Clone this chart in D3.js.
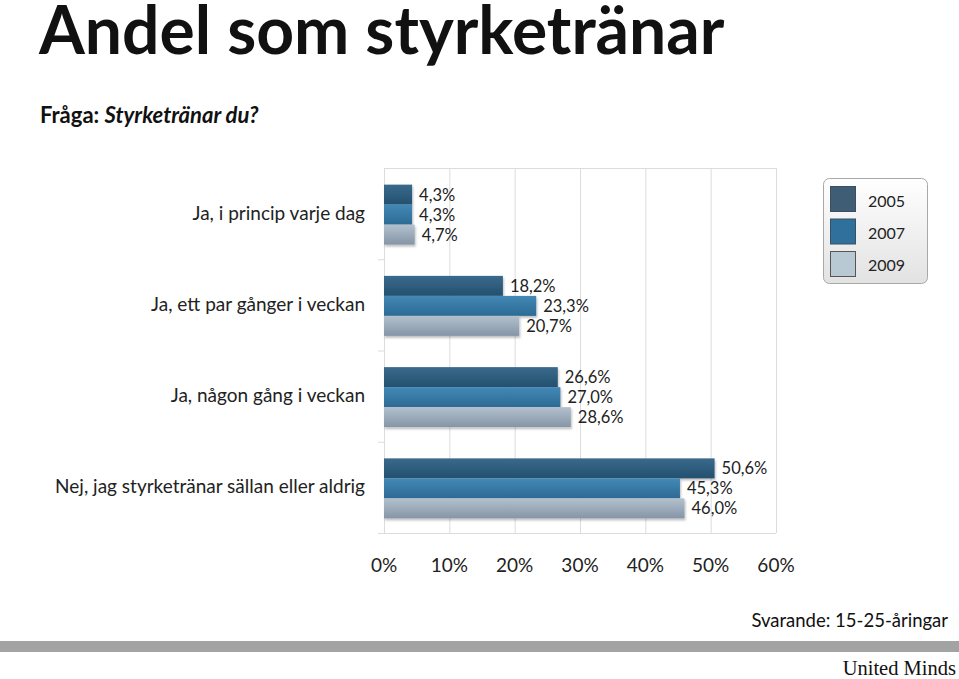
<!DOCTYPE html>
<html><head><meta charset="utf-8">
<script src="https://cdn.jsdelivr.net/npm/d3@7"></script>
<style>body{margin:0;background:#fff;} svg{display:block;}</style>
</head><body>
<svg id="c" width="959" height="679"></svg>
<script>
const categories = ["Ja, i princip varje dag","Ja, ett par gånger i veckan","Ja, någon gång i veckan","Nej, jag styrketränar sällan eller aldrig"];
const years = ["2005","2007","2009"];
const v2005 = [4.3, 18.2, 26.6, 50.6];
const v2007 = [4.3, 23.3, 27.0, 45.3];
const v2009 = [4.7, 20.7, 28.6, 46.0];
const xTicks = [0,10,20,30,40,50,60];
const title = "Andel som styrketränar";
const subtitleBold = "Fråga: ";
const subtitleItalic = "Styrketränar du?";
const footnote = "Svarande: 15-25-åringar";
const brand = "United Minds";

const series = [v2005, v2007, v2009];
const svg = d3.select("#c");
const font = "Lato, 'Open Sans', sans-serif";
const defs = svg.append("defs");
const grads = [
  ["g0", "#3a6a8c", "#24506e"],
  ["g1", "#4389b6", "#2c6a94"],
  ["g2", "#b3c1ce", "#8595a7"]
];
grads.forEach(([id,a,b])=>{
  const g = defs.append("linearGradient").attr("id",id).attr("x1",0).attr("y1",0).attr("x2",0).attr("y2",1);
  g.append("stop").attr("offset","0%").attr("stop-color",a);
  g.append("stop").attr("offset","100%").attr("stop-color",b);
});
const lg = defs.append("linearGradient").attr("id","lg").attr("x1",0).attr("y1",0).attr("x2",0).attr("y2",1);
lg.append("stop").attr("offset","0%").attr("stop-color","#ffffff");
lg.append("stop").attr("offset","100%").attr("stop-color","#e2e2e2");
const f = defs.append("filter").attr("id","sh").attr("x","-5%").attr("y","-20%").attr("width","120%").attr("height","160%");
f.append("feDropShadow").attr("dx",1).attr("dy",2).attr("stdDeviation",1.2).attr("flood-color","#000").attr("flood-opacity",0.25);

// title
svg.append("text").attr("x",39).attr("y",54).attr("font-family",font).attr("font-weight",700)
  .attr("font-size",66).attr("fill","#111").text(title);
const st = svg.append("text").attr("x",40).attr("y",123).attr("font-family",font).attr("font-weight",700)
  .attr("font-size",22).attr("fill","#111");
st.append("tspan").text(subtitleBold);
st.append("tspan").attr("font-style","italic").text(subtitleItalic);

const x = d3.scaleLinear().domain([0,60]).range([384,776]);
const y = d3.scaleBand().domain(categories).range([168,533]);
const yInner = d3.scaleBand().domain(years).range([0,60]);
const groupOff = (y.bandwidth()-60)/2 + 1;

// grid
svg.append("g").selectAll("line").data(xTicks).join("line")
  .attr("x1",d=>x(d)+0.5).attr("x2",d=>x(d)+0.5).attr("y1",168).attr("y2",533)
  .attr("stroke","#dcdcdc").attr("stroke-width",1);
svg.append("line").attr("x1",x(0)).attr("x2",x(60)).attr("y1",168.5).attr("y2",168.5).attr("stroke","#dcdcdc");
svg.append("line").attr("x1",x(0)-6).attr("x2",x(60)).attr("y1",533.5).attr("y2",533.5).attr("stroke","#dcdcdc");
// left ticks at band boundaries
svg.append("g").selectAll("line").data(categories.slice(1)).join("line")
  .attr("x1",x(0)-6).attr("x2",x(0)).attr("y1",d=>y(d)+0.5).attr("y2",d=>y(d)+0.5).attr("stroke","#dcdcdc");

// category labels
svg.append("g").selectAll("text").data(categories).join("text")
  .attr("x",365).attr("y",d=>y(d)+y.bandwidth()/2+6)
  .attr("text-anchor","end").attr("font-family",font).attr("font-size",19).attr("fill","#222").text(d=>d);

// bars
const fmt = v => d3.format(".1f")(v).replace(".",",")+"%";
series.forEach((vals,si)=>{
  const g = svg.append("g");
  g.selectAll("rect").data(categories).join("rect")
    .attr("x",x(0)).attr("y",(d)=>y(d)+groupOff+yInner(years[si]))
    .attr("width",(d,i)=>x(vals[i])-x(0)).attr("height",yInner.bandwidth())
    .attr("fill",`url(#g${si})`).attr("filter","url(#sh)");
  g.selectAll("text").data(categories).join("text")
    .attr("x",(d,i)=>x(vals[i])+7).attr("y",(d)=>y(d)+groupOff+yInner(years[si])+yInner.bandwidth()/2+6)
    .attr("font-family",font).attr("font-size",16.5).attr("fill","#222").text((d,i)=>fmt(vals[i]));
});

// x axis labels
svg.append("g").selectAll("text").data(xTicks).join("text")
  .attr("x",d=>x(d)).attr("y",572).attr("text-anchor","middle")
  .attr("font-family",font).attr("font-size",19).attr("fill","#222").text(d=>d+"%");

// legend
svg.append("rect").attr("x",823.5).attr("y",178.5).attr("width",104).attr("height",105).attr("rx",6)
  .attr("fill","url(#lg)").attr("stroke","#a8a8a8");
const swatchFill = ["#3f5d74","#2f709c","#b9c9d4"];
const lgI = svg.append("g");
years.forEach((yr,i)=>{
  lgI.append("rect").attr("x",830.5).attr("y",186.5+i*32.5).attr("width",25).attr("height",25)
    .attr("fill",swatchFill[i]).attr("stroke",i===2?"#555":"#3a4f60").attr("stroke-width",1);
  lgI.append("text").attr("x",868).attr("y",207+i*32).attr("font-family",font).attr("font-size",16)
    .attr("fill","#222").text(yr);
});

// footer
svg.append("text").attr("x",948).attr("y",627).attr("text-anchor","end").attr("font-family",font)
  .attr("font-size",18.5).attr("fill","#111").text(footnote);
svg.append("rect").attr("x",0).attr("y",641).attr("width",959).attr("height",11).attr("fill","#a3a3a3");
svg.append("text").attr("x",956).attr("y",675).attr("text-anchor","end").attr("font-family","'Liberation Serif','DejaVu Serif',serif")
  .attr("font-size",20.5).attr("fill","#111").text(brand);
</script>
</body></html>
